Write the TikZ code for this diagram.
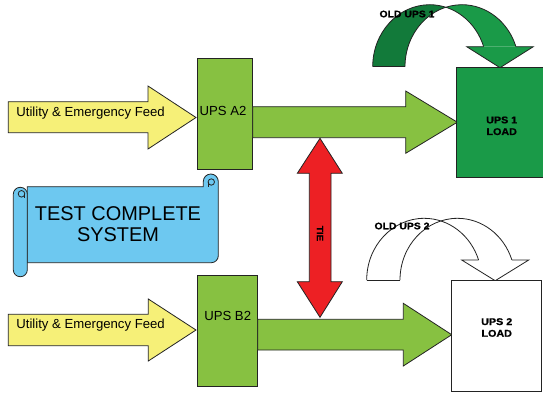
\documentclass[tikz,border=0pt]{standalone}
\usepackage{fontspec}
\setmainfont{Liberation Sans}
\newfontfamily\blk[FakeStretch=1.1,FakeBold=1]{Liberation Sans}
\definecolor{yel}{RGB}{246,240,120}
\definecolor{grL}{RGB}{135,193,65}
\definecolor{grD}{RGB}{26,154,72}
\definecolor{grDD}{RGB}{18,122,58}
\definecolor{redA}{RGB}{237,32,36}
\definecolor{blu}{RGB}{109,200,240}
\definecolor{outl}{RGB}{35,35,35}
\begin{document}
\begin{tikzpicture}[x=1bp,y=-1bp,line width=0.8bp,
  ol/.style={draw=outl},
  boxst/.style={draw=outl,inner sep=0pt,outer sep=0pt,anchor=north west},
  lbl/.style={inner sep=0pt,font=\fontsize{13.2}{15}\selectfont},
  bl/.style={inner sep=0pt,align=center,font=\blk\bfseries\fontsize{9.8}{11.7}\selectfont},
  ob/.style={inner sep=0pt,font=\blk\bfseries\fontsize{9.5}{10}\selectfont}]
\clip (0,0) rectangle (543,392);
\fill[white] (0,0) rectangle (543,392);

% ---- curved arrow 1 (green) ----
\def\bandA{(372.7,66.7) arc[start angle=180,end angle=341.2,x radius=57,y radius=62] -- (515.96,46.7) arc[start angle=341.2,end angle=180,x radius=57,y radius=62] -- cycle}
\begin{scope}\clip (0,0) rectangle (445.85,392); \fill[grDD] \bandA; \end{scope}
\begin{scope}\clip (445.85,0) rectangle (543,392); \fill[grD] \bandA; \end{scope}
\draw[ol] (372.7,66.7) arc[start angle=180,end angle=341.2,x radius=57,y radius=62];
\draw[ol] (405,66.7) arc[start angle=180,end angle=341.2,x radius=57,y radius=62];
\draw[ol] (372.7,66.7) -- (405,66.7);
\fill[grD] (483.66,46.7) -- (466.7,46.7) -- (500,67.7) -- (533.3,46.7) -- (515.96,46.7) -- cycle;
\draw[ol] (483.66,46.7) -- (466.7,46.7) -- (500,67.7) -- (533.3,46.7) -- (515.96,46.7);
\node[ob] (old1) at (407,14) {OLD UPS 1};

% ---- curved arrow 2 (white) ----
\def\bandB{(366.7,280) arc[start angle=180,end angle=341.1,x radius=57.5,y radius=61.7] -- (511.9,260) arc[start angle=341.1,end angle=180,x radius=57.5,y radius=61.7] -- cycle}
\fill[white] \bandB;
\draw[ol] (366.7,280) arc[start angle=180,end angle=341.1,x radius=57.5,y radius=61.7];
\draw[ol] (400,280) arc[start angle=180,end angle=341.1,x radius=57.5,y radius=61.7];
\draw[ol] (366.7,280) -- (400,280);
\fill[white] (478.6,260) -- (461.7,260) -- (495.2,280.7) -- (528.7,260) -- (511.9,260) -- cycle;
\draw[ol] (478.6,260) -- (461.7,260) -- (495.2,280.7) -- (528.7,260) -- (511.9,260);
\node[ob] (old2) at (402,226) {OLD UPS 2};

% ---- yellow feed arrows ----
\draw[ol,fill=yel] (8.3,101.7) -- (148,101.7) -- (148,86) -- (196,117.5) -- (148,149) -- (148,132.7) -- (8.3,132.7) -- cycle;
\node[lbl,anchor=west] (feedA) at (16,112.7) {Utility \& Emergency Feed};
\draw[ol,fill=yel] (8.3,314.3) -- (148.3,314.3) -- (148.3,299) -- (196,330) -- (148.3,361) -- (148.3,345.7) -- (8.3,345.7) -- cycle;
\node[lbl,anchor=west] (feedB) at (16,325) {Utility \& Emergency Feed};

% ---- UPS boxes ----
\node[boxst,fill=grL,minimum width=55bp,minimum height=110.7bp] (upsA) at (197.7,58.3) {};
\node[lbl] (upsAt) at (223,111) {UPS A2};
\node[boxst,fill=grL,minimum width=60bp,minimum height=111bp] (upsB) at (197.7,275.7) {};
\node[lbl] (upsBt) at (227.7,316) {UPS B2};

% ---- green output arrows ----
\draw[ol,fill=grL] (252.7,106.7) -- (405.7,106.7) -- (405.7,91) -- (457.3,122.2) -- (405.7,153.3) -- (405.7,137.7) -- (252.7,137.7) -- cycle;
\draw[ol,fill=grL] (257.7,319.3) -- (403.3,319.3) -- (403.3,303.3) -- (451.7,334.7) -- (403.3,366) -- (403.3,350) -- (257.7,350) -- cycle;

% ---- load boxes ----
\node[boxst,fill=grD,minimum width=90bp,minimum height=110bp] (load1) at (456.7,67.7) {};
\node[bl] (load1t) at (501.7,125.8) {UPS 1\\LOAD};
\node[boxst,fill=white,minimum width=90bp,minimum height=110.3bp] (load2) at (451.7,280.7) {};
\node[bl] (load2t) at (496.7,327.5) {UPS 2\\LOAD};

% ---- TIE double arrow ----
\draw[ol,fill=redA] (320,138.3) -- (342.3,173.3) -- (331,173.3) -- (331,281.7) -- (342.3,281.7) -- (320,317.3) -- (297.3,281.7) -- (309.3,281.7) -- (309.3,173.3) -- (297.3,173.3) -- cycle;
\node[rotate=-90,inner sep=0pt,font=\blk\bfseries\fontsize{9}{9}\selectfont] (tie) at (320,233.5) {TIE};

% ---- scroll ----
\draw[ol,fill=blu] (27.3,186.7) -- (203.3,186.7) -- (203.3,181.5) arc[start angle=180,end angle=360,radius=7.5] -- (218.3,255.7) arc[start angle=0,end angle=90,radius=7] -- (27.3,262.7) -- cycle;
\draw[ol] (211.3,182) circle[radius=3.2];
\draw[ol] (208.1,182) -- (208.1,186.7);
\draw[ol,fill=blu,rounded corners=6.9] (13.3,187.3) rectangle (27.3,276.7);
\draw[ol] (21.5,193.8) circle[radius=3.3];
\draw[ol] (24.8,193.8) -- (24.8,197.5);
\node[align=center,inner sep=0pt,font=\fontsize{20}{21.7}\selectfont] (test) at (118,224.2) {TEST COMPLETE\\SYSTEM};
\end{tikzpicture}
\end{document}
